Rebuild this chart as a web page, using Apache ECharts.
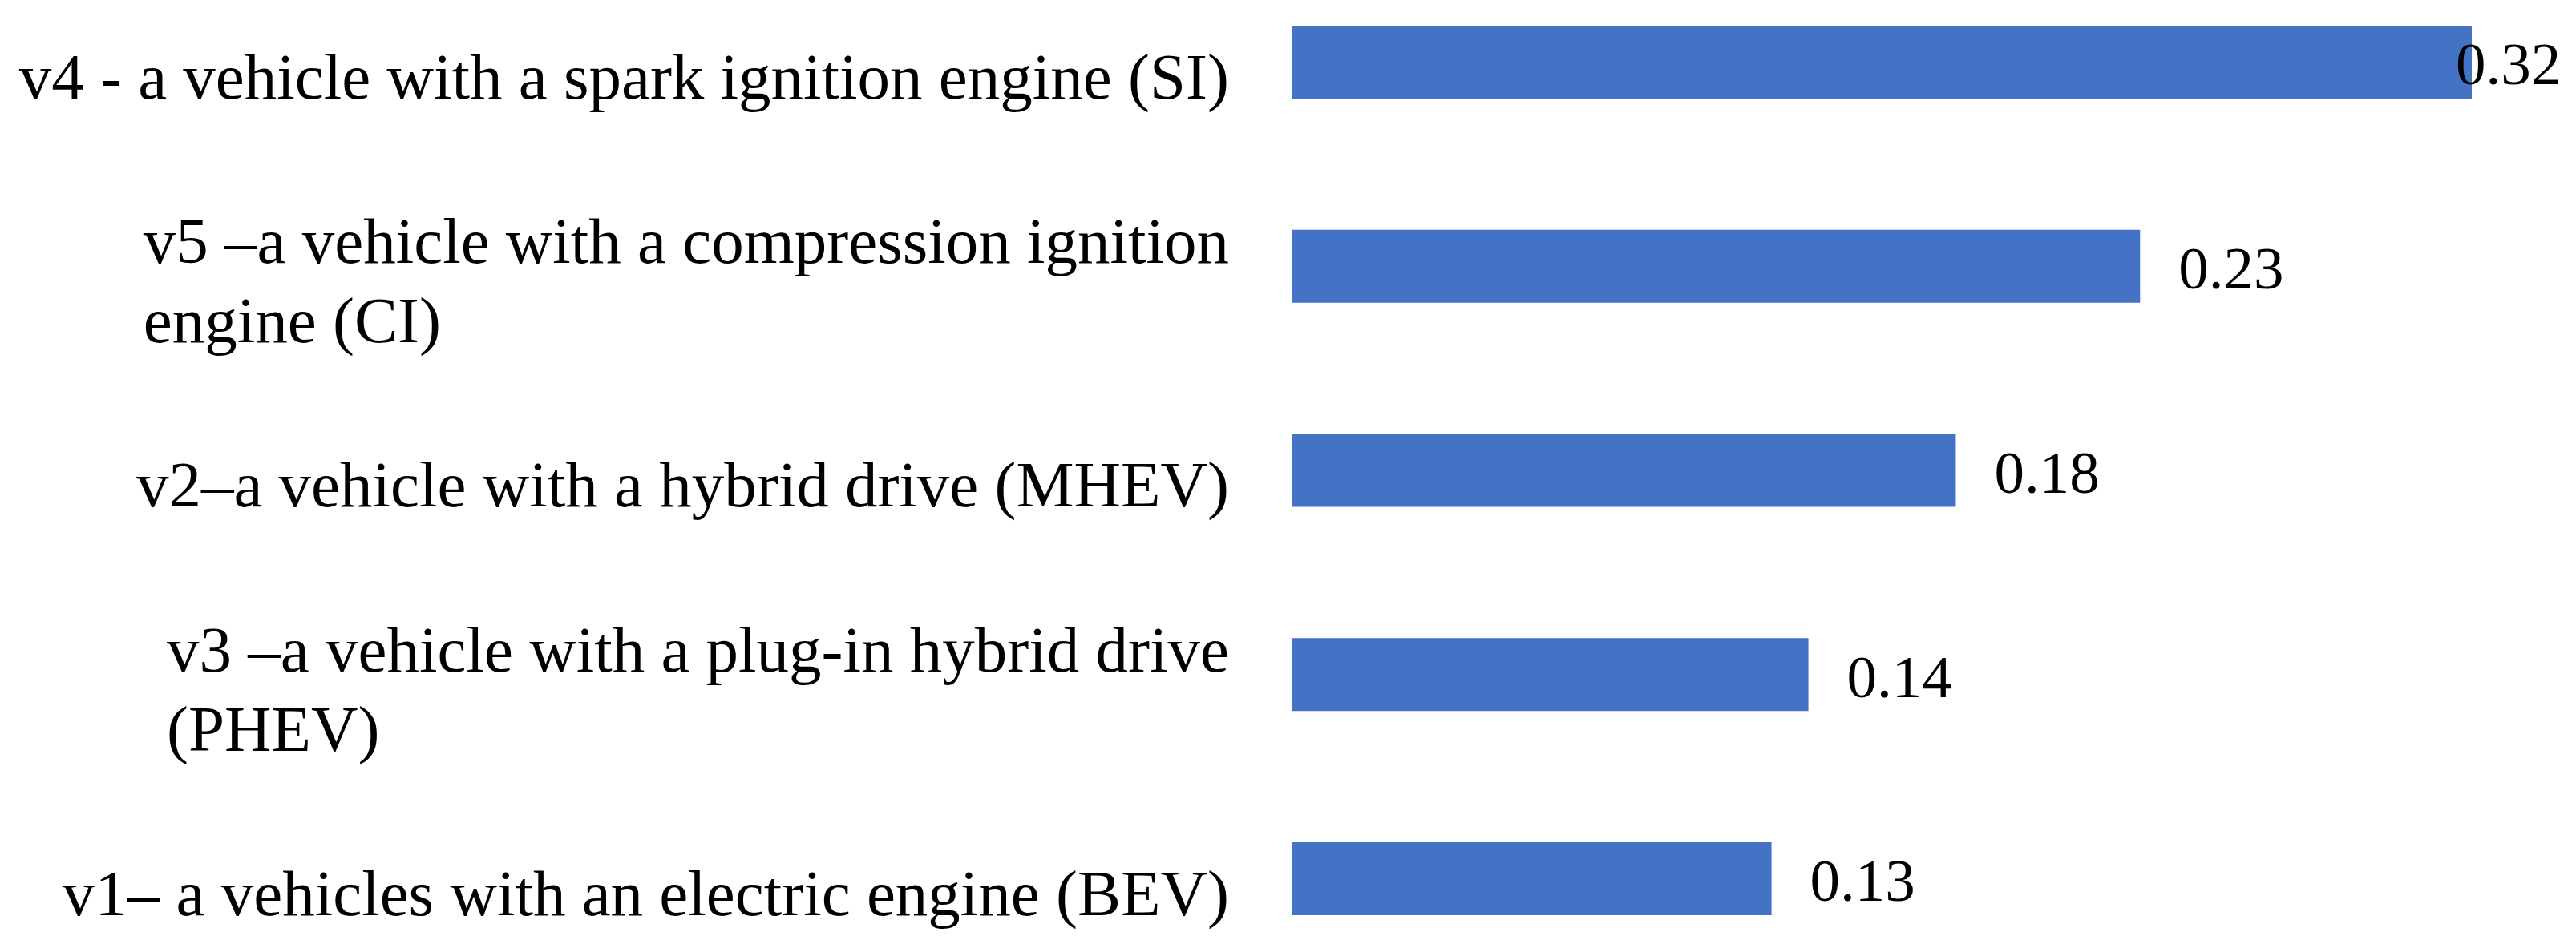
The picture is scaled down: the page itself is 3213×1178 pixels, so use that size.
<!DOCTYPE html>
<html>
<head>
<meta charset="utf-8">
<script src="https://cdn.jsdelivr.net/npm/echarts@6/dist/echarts.min.js"></script>
<style>
html,body{margin:0;padding:0;background:#fff;overflow:hidden;width:3213px;height:1178px;position:relative;}
#chart{position:absolute;left:0;top:-50px;width:3213px;height:1274px;}
</style>
</head>
<body>
<div id="chart"></div>
<script>
// Categories, top to bottom
const categories = [
  'v4 - a vehicle with a spark ignition engine (SI)',
  'v5 \u2013a vehicle with a compression ignition\nengine (CI)',
  'v2\u2013a vehicle with a hybrid drive (MHEV)',
  'v3 \u2013a vehicle with a plug-in hybrid drive\n(PHEV)',
  'v1\u2013 a vehicles with an electric engine (BEV)'
];
// Values
const values = [0.32, 0.23, 0.18, 0.14, 0.13];
const xMin = 0;
const xMax = 0.32;

const chart = echarts.init(document.getElementById('chart'), null, {renderer: 'canvas'});

const seriesData = values.map(function (v) {
  if (v >= xMax) {
    return {value: v, label: {distance: -20}};
  }
  return v;
});

chart.setOption({
  animation: false,
  backgroundColor: '#ffffff',
  grid: {left: 1612, right: 130, top: 0, bottom: 0, containLabel: false},
  xAxis: {
    type: 'value',
    min: xMin,
    max: xMax,
    show: false
  },
  yAxis: {
    type: 'category',
    inverse: true,
    data: categories,
    axisLine: {show: false},
    axisTick: {show: false},
    splitLine: {show: false},
    axisLabel: {
      margin: 79,
      color: '#000000',
      fontFamily: 'Liberation Serif',
      fontSize: 81,
      lineHeight: 99,
      padding: [48, 0, 0, 0],
      align: 'right',
      formatter: function (val) {
        return val.split('\n').map(function (s) { return '{a|' + s + '}'; }).join('\n');
      },
      rich: {
        a: {
          align: 'left',
          color: '#000000',
          fontFamily: 'Liberation Serif',
          fontSize: 81,
          lineHeight: 99
        }
      }
    }
  },
  series: [{
    type: 'bar',
    data: seriesData,
    barWidth: 91,
    itemStyle: {color: '#4472C4'},
    label: {
      show: true,
      position: 'right',
      distance: 48,
      offset: [0, 8],
      color: '#000000',
      fontFamily: 'Liberation Serif',
      fontSize: 75,
      formatter: function (p) { return p.value.toFixed(2); }
    }
  }]
});
</script>
</body>
</html>
